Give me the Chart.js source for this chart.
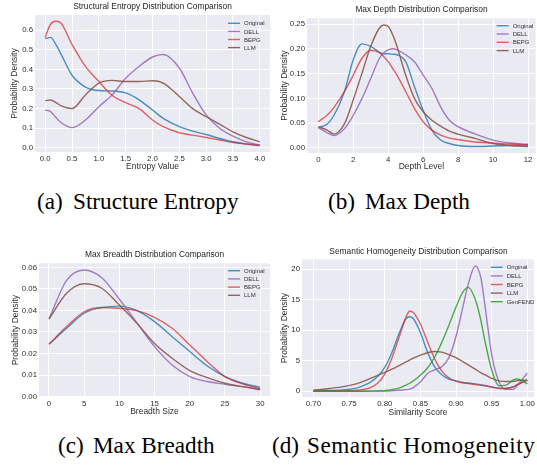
<!DOCTYPE html>
<html>
<head>
<meta charset="utf-8">
<script src="https://cdn.jsdelivr.net/npm/chart.js@4.4.0/dist/chart.umd.min.js"></script>
<style>
  html, body { margin: 0; padding: 0; background: #fff; }
  body { width: 537px; height: 466px; position: relative; overflow: hidden; }
  .panel { position: absolute; }
  .ttl { position: absolute; font-family: "Liberation Sans", Arial, sans-serif; font-size: 8.4px; line-height: 10px; color: #262626; text-align: center; white-space: nowrap; }
  .cap { position: absolute; font-family: "Liberation Serif", "Times New Roman", serif; font-size: 23.2px; line-height: 23.2px; color: #000; white-space: nowrap; }
</style>
</head>
<body>
<div class="panel" style="left:0;top:0;width:272px;height:176px"><canvas id="chartA"></canvas></div>
<div class="panel" style="left:270px;top:0;width:267px;height:177px"><canvas id="chartB"></canvas></div>
<div class="panel" style="left:0;top:240px;width:272px;height:181px"><canvas id="chartC"></canvas></div>
<div class="panel" style="left:270px;top:240px;width:267px;height:181px"><canvas id="chartD"></canvas></div>

<div class="ttl" style="left:35px;width:235px;top:1px">Structural Entropy Distribution Comparison</div>
<div class="ttl" style="left:307px;width:229px;top:4px">Max Depth Distribution Comparison</div>
<div class="ttl" style="left:39px;width:231px;top:249px">Max Breadth Distribution Comparison</div>
<div class="ttl" style="left:302px;width:233px;top:246px">Semantic Homogeneity Distribution Comparison</div>

<span class="cap" style="left:37px;top:190px">(a)</span>
<span class="cap" style="left:73px;top:190px">Structure Entropy</span>
<span class="cap" style="left:328px;top:190px">(b)</span>
<span class="cap" style="left:365px;top:190px">Max Depth</span>
<span class="cap" style="left:58px;top:434px">(c)</span>
<span class="cap" style="left:93px;top:434px">Max Breadth</span>
<span class="cap" style="left:272px;top:434px">(d)</span>
<span class="cap" style="left:307px;top:434px;letter-spacing:0.5px">Semantic Homogeneity</span>

<script>
// Colours (matplotlib tab palette, slightly faded)
const C_ORIGINAL = "rgba(31,119,180,0.8)";
const C_DELL = "rgba(148,103,189,0.85)";
const C_BEPG = "rgba(214,39,40,0.7)";
const C_LLM = "rgba(140,86,75,0.9)";
const C_GENFEND = "rgba(44,160,44,0.85)";

// (a) Structural entropy
const entropyX = [0, 0.1, 0.2, 0.3, 0.5, 0.75, 1.0, 1.25, 1.5, 1.75, 2.0, 2.2, 2.5, 2.75, 3.0, 3.25, 3.5, 3.75, 4.0];
const entropyOriginal = [0.556, 0.563, 0.526, 0.475, 0.37, 0.31, 0.292, 0.29, 0.28, 0.245, 0.193, 0.15, 0.108, 0.085, 0.068, 0.048, 0.031, 0.019, 0.01];
const entropyDell = [0.193, 0.185, 0.155, 0.128, 0.103, 0.142, 0.21, 0.27, 0.355, 0.415, 0.463, 0.476, 0.407, 0.279, 0.168, 0.1, 0.06, 0.031, 0.014];
const entropyBepg = [0.564, 0.63, 0.645, 0.634, 0.527, 0.415, 0.338, 0.267, 0.23, 0.2, 0.142, 0.108, 0.077, 0.065, 0.053, 0.04, 0.027, 0.02, 0.015];
const entropyLlm = [0.241, 0.244, 0.231, 0.214, 0.2, 0.27, 0.33, 0.344, 0.338, 0.338, 0.342, 0.33, 0.262, 0.2, 0.159, 0.121, 0.082, 0.053, 0.031];
const entropyXTicks = [0, 0.5, 1.0, 1.5, 2.0, 2.5, 3.0, 3.5, 4.0];
const entropyYTicks = [0, 0.1, 0.2, 0.3, 0.4, 0.5, 0.6];

// (b) Max depth
const depthX = [0, 0.5, 0.9, 1.5, 2, 2.5, 3, 3.5, 3.75, 4, 4.3, 4.5, 5, 5.5, 6, 6.5, 7, 7.5, 8, 9, 10, 11, 12];
const depthOriginal = [0.041, 0.048, 0.066, 0.114, 0.178, 0.21, 0.205, 0.193, 0.19, 0.19, 0.189, 0.188, 0.174, 0.124, 0.076, 0.036, 0.016, 0.009, 0.005, 0.003, 0.004, 0.005, 0.005];
const depthDell = [0.041, 0.031, 0.025, 0.039, 0.066, 0.1, 0.14, 0.181, 0.192, 0.198, 0.2, 0.198, 0.188, 0.174, 0.147, 0.12, 0.083, 0.056, 0.043, 0.028, 0.016, 0.01, 0.007];
const depthBepg = [0.053, 0.066, 0.082, 0.114, 0.147, 0.181, 0.197, 0.192, 0.184, 0.174, 0.158, 0.147, 0.114, 0.08, 0.053, 0.036, 0.026, 0.02, 0.017, 0.012, 0.01, 0.008, 0.007];
const depthLlm = [0.043, 0.036, 0.028, 0.049, 0.097, 0.151, 0.205, 0.242, 0.248, 0.245, 0.225, 0.205, 0.147, 0.1, 0.073, 0.056, 0.044, 0.034, 0.028, 0.019, 0.009, 0.005, 0.003];
const depthXTicks = [0, 2, 4, 6, 8, 10, 12];
const depthYTicks = [0, 0.05, 0.10, 0.15, 0.20, 0.25];

// (c) Max breadth
const breadthX = [0, 2.5, 5, 7.5, 10, 12.5, 15, 17.5, 20, 22.5, 25, 27.5, 30];
const breadthOriginal = [0.0243, 0.0317, 0.0387, 0.0413, 0.042, 0.0399, 0.0348, 0.0278, 0.0209, 0.0142, 0.0093, 0.0062, 0.0043];
const breadthDell = [0.036, 0.054, 0.0588, 0.0552, 0.0452, 0.0342, 0.0232, 0.0147, 0.0093, 0.007, 0.0057, 0.0046, 0.0031];
const breadthBepg = [0.0243, 0.0325, 0.0394, 0.0414, 0.041, 0.0399, 0.0368, 0.0317, 0.024, 0.0162, 0.0093, 0.0059, 0.0036];
const breadthLlm = [0.036, 0.048, 0.0524, 0.0503, 0.0425, 0.034, 0.0247, 0.0178, 0.0121, 0.0088, 0.0062, 0.0046, 0.0034];
const breadthXTicks = [0, 5, 10, 15, 20, 25, 30];
const breadthYTicks = [0, 0.01, 0.02, 0.03, 0.04, 0.05, 0.06];

// (d) Semantic homogeneity
const simX = [0.70, 0.72, 0.74, 0.76, 0.77, 0.78, 0.79, 0.80, 0.81, 0.82, 0.83, 0.835, 0.84, 0.85, 0.86, 0.87, 0.88, 0.89, 0.90, 0.91, 0.917, 0.927, 0.935, 0.94, 0.95, 0.96, 0.97, 0.98, 0.985, 0.99, 1.00];
const simOriginal = [0.1, 0.12, 0.2, 0.5, 0.9, 1.5, 2.4, 3.9, 6.3, 9.4, 11.9, 12.2, 11.9, 9.6, 6.4, 4.0, 2.7, 2.0, 1.7, 1.45, 1.35, 1.2, 1.05, 0.95, 0.7, 0.5, 0.45, 0.7, 1.0, 1.3, 1.8];
const simDell = [0, 0, 0, 0, 0, 0.01, 0.02, 0.04, 0.08, 0.15, 0.25, 0.35, 0.6, 1.5, 2.9, 3.5, 4.0, 5.5, 9.0, 14.0, 17.5, 20.5, 18.5, 14.5, 6.0, 1.6, 0.3, 0.3, 0.8, 1.5, 3.0];
const simBepg = [0.02, 0.03, 0.05, 0.15, 0.3, 0.6, 1.3, 2.8, 5.4, 8.8, 12.2, 13.1, 12.9, 11.0, 8.1, 5.3, 3.3, 2.2, 1.6, 1.35, 1.25, 1.1, 0.95, 0.9, 0.65, 0.45, 0.45, 0.7, 1.0, 1.3, 1.8];
const simLlm = [0.2, 0.4, 0.7, 1.2, 1.6, 2.1, 2.6, 3.1, 3.6, 4.2, 4.8, 5.1, 5.4, 5.9, 6.3, 6.5, 6.4, 6.0, 5.5, 4.8, 4.3, 3.6, 3.0, 2.7, 2.1, 1.7, 1.6, 1.6, 1.7, 1.8, 1.8];
const simGenfend = [0, 0, 0, 0, 0, 0.02, 0.05, 0.1, 0.25, 0.5, 1.0, 1.3, 1.7, 2.6, 3.8, 5.6, 8.0, 10.8, 13.8, 16.3, 17.0, 15.0, 11.5, 8.5, 3.5, 0.9, 1.0, 1.8, 2.0, 1.9, 1.2];
const simXTicks = [0.70, 0.75, 0.80, 0.85, 0.90, 0.95, 1.00];
const simYTicks = [0, 5, 10, 15, 20];

const FONT = '"Liberation Sans", Arial, sans-serif';
const TEXT = "#2e2e2e";

// Build one subplot
function makePanel(id, p) {
  const datasets = p.series.map((s, i) => ({
    label: s.label,
    data: p.xs.map((x, k) => ({ x: x, y: s.values[k] })),
    borderColor: s.color,
    borderWidth: 1.4,
    pointRadius: 0,
    fill: false,
    cubicInterpolationMode: "monotone",
    order: p.series.length - i
  }));

  // grey plot background and in-plot legend
  const decor = {
    id: "decor",
    beforeDraw(chart) {
      const a = chart.chartArea;
      const ctx = chart.ctx;
      ctx.save();
      ctx.fillStyle = "#EAEAF2";
      ctx.fillRect(a.left, a.top, a.right - a.left, a.bottom - a.top);
      ctx.restore();
    },
    afterDraw(chart) {
      const a = chart.chartArea;
      const ctx = chart.ctx;
      ctx.save();
      ctx.font = "6px " + FONT;
      ctx.textAlign = "left";
      ctx.textBaseline = "middle";
      p.series.forEach((s, i) => {
        const y = a.top + p.legendTop + i * p.legendGap;
        const x0 = a.right - p.legendRight;
        ctx.strokeStyle = s.color;
        ctx.lineWidth = 1.4;
        ctx.beginPath();
        ctx.moveTo(x0, y);
        ctx.lineTo(x0 + 12, y);
        ctx.stroke();
        ctx.fillStyle = "#333";
        ctx.fillText(s.label, x0 + 16, y + 0.5);
      });
      ctx.restore();
    }
  };

  const tickFont = { family: FONT, size: 7.8 };
  const titleFont = { family: FONT, size: 8.5, lineHeight: 1.2 };

  return new Chart(document.getElementById(id), {
    type: "line",
    data: { datasets },
    plugins: [decor],
    options: {
      responsive: true,
      maintainAspectRatio: false,
      animation: false,
      layout: { padding: { top: p.padTop, right: p.padRight, left: 0, bottom: 0 } },
      plugins: { legend: { display: false }, tooltip: { enabled: false } },
      scales: {
        x: {
          type: "linear",
          min: p.xMin,
          max: p.xMax,
          afterBuildTicks: sc => { sc.ticks = p.xTicks.map(v => ({ value: v })); },
          afterFit: sc => { sc.height = 24; },
          grid: { color: "#ffffff", lineWidth: 1, drawTicks: false },
          border: { display: false },
          ticks: { color: TEXT, font: tickFont, padding: 2, maxRotation: 0, autoSkip: false,
                   callback: v => Number(v).toFixed(p.xDec) },
          title: { display: true, text: p.xTitle, color: TEXT, font: titleFont,
                   padding: { top: 0, bottom: p.xTitlePad } }
        },
        y: {
          type: "linear",
          min: p.yMin,
          max: p.yMax,
          afterBuildTicks: sc => { sc.ticks = p.yTicks.map(v => ({ value: v })); },
          afterFit: sc => { sc.width = p.yAxisW; },
          grid: { color: "#ffffff", lineWidth: 1, drawTicks: false },
          border: { display: false },
          ticks: { color: TEXT, font: tickFont, padding: 2, autoSkip: false,
                   callback: v => Number(v).toFixed(p.yDec) },
          title: { display: true, text: "Probability Density", color: TEXT, font: titleFont,
                   padding: { top: p.yTitlePad, bottom: 0 } }
        }
      }
    }
  });
}

const fourSeries = (o, d, b, l) => [
  { label: "Original", color: C_ORIGINAL, values: o },
  { label: "DELL", color: C_DELL, values: d },
  { label: "BEPG", color: C_BEPG, values: b },
  { label: "LLM", color: C_LLM, values: l }
];

makePanel("chartA", {
  xs: entropyX, series: fourSeries(entropyOriginal, entropyDell, entropyBepg, entropyLlm),
  xMin: -0.19, xMax: 4.19, yMin: -0.021, yMax: 0.677,
  xTicks: entropyXTicks, yTicks: entropyYTicks, xDec: 1, yDec: 1,
  xTitle: "Entropy Value", padTop: 15, padRight: 2, yAxisW: 35,
  xTitlePad: 4.2, yTitlePad: 9.9, legendRight: 42, legendTop: 8.3, legendGap: 8.1
});

makePanel("chartB", {
  xs: depthX, series: fourSeries(depthOriginal, depthDell, depthBepg, depthLlm),
  xMin: -0.647, xMax: 12.44, yMin: -0.0101, yMax: 0.2615,
  xTicks: depthXTicks, yTicks: depthYTicks, xDec: 0, yDec: 2,
  xTitle: "Depth Level", padTop: 18.3, padRight: 1.3, yAxisW: 37,
  xTitlePad: 5.2, yTitlePad: 9.9, legendRight: 39, legendTop: 7.4, legendGap: 8.3
});

makePanel("chartC", {
  xs: breadthX, series: fourSeries(breadthOriginal, breadthDell, breadthBepg, breadthLlm),
  xMin: -1.42, xMax: 31.4, yMin: -0.0002, yMax: 0.0619,
  xTicks: breadthXTicks, yTicks: breadthYTicks, xDec: 0, yDec: 2,
  xTitle: "Breadth Size", padTop: 23.3, padRight: 2, yAxisW: 39,
  xTitlePad: 4.2, yTitlePad: 10.9, legendRight: 42, legendTop: 7.4, legendGap: 8.2
});

makePanel("chartD", {
  xs: simX,
  series: fourSeries(simOriginal, simDell, simBepg, simLlm).concat([
    { label: "GenFEND", color: C_GENFEND, values: simGenfend }
  ]),
  xMin: 0.684, xMax: 1.0093, yMin: -0.95, yMax: 21.6,
  xTicks: simXTicks, yTicks: simYTicks, xDec: 2, yDec: 0,
  xTitle: "Similarity Score", padTop: 19.3, padRight: 2, yAxisW: 32,
  xTitlePad: 3.6, yTitlePad: 9.9, legendRight: 43.3, legendTop: 8, legendGap: 8.6
});
</script>
</body>
</html>
